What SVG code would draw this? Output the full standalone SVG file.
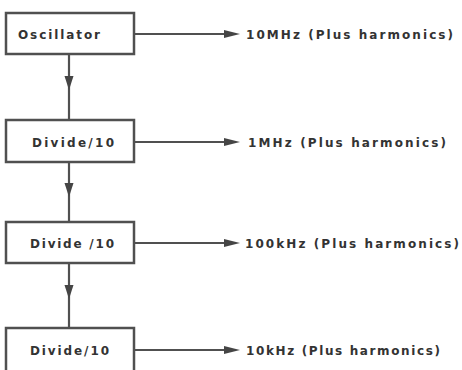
<svg xmlns="http://www.w3.org/2000/svg" width="462" height="370" viewBox="0 0 462 370">
<style>
.box{fill:#fff;stroke:#505050;stroke-width:2.5}
.lbl{font-family:"DejaVu Sans","Liberation Sans",sans-serif;font-weight:bold;font-size:12px;fill:#333}
.out{font-family:"DejaVu Sans","Liberation Sans",sans-serif;font-weight:bold;font-size:12px;fill:#333}
.ln{stroke:#505050;stroke-width:2.2;fill:none}
.hd{fill:#454545}
</style>
<rect width="462" height="370" fill="#fff"/>
<g id="connectors">
<line class="ln" x1="134" y1="34" x2="232" y2="34"/>
<path class="hd" d="M224,30 L240,34 L224,38 Z"/>
<line class="ln" x1="134" y1="142" x2="232" y2="142"/>
<path class="hd" d="M224,138 L240,142 L224,146 Z"/>
<line class="ln" x1="134" y1="243" x2="232" y2="243"/>
<path class="hd" d="M224,239 L240,243 L224,247 Z"/>
<line class="ln" x1="134" y1="350" x2="232" y2="350"/>
<path class="hd" d="M224,346 L240,350 L224,354 Z"/>
<line class="ln" x1="69" y1="54" x2="69" y2="119"/>
<path class="hd" d="M64.5,76 L73.5,76 L69,90 Z"/>
<line class="ln" x1="69" y1="162" x2="69" y2="222"/>
<path class="hd" d="M64.5,183 L73.5,183 L69,197 Z"/>
<line class="ln" x1="69" y1="263" x2="69" y2="328"/>
<path class="hd" d="M64.5,285 L73.5,285 L69,299 Z"/>
</g>
<g id="oscillator">
<rect class="box" x="6" y="13" width="128" height="41"/>
<text class="lbl" x="18" y="38.5" textLength="82" lengthAdjust="spacing">Oscillator</text>
</g>
<g id="divide1">
<rect class="box" x="6" y="120" width="128" height="42"/>
<text class="lbl" x="32" y="147" textLength="82" lengthAdjust="spacing">Divide/10</text>
</g>
<g id="divide2">
<rect class="box" x="6" y="222" width="128" height="41"/>
<text class="lbl" x="30" y="248" textLength="84" lengthAdjust="spacing">Divide /10</text>
</g>
<g id="divide3">
<rect class="box" x="6" y="328" width="128" height="46"/>
<text class="lbl" x="30" y="355" textLength="79" lengthAdjust="spacing">Divide/10</text>
</g>
<g id="outputs">
<text class="out" x="246" y="38.5" textLength="207" lengthAdjust="spacing">10MHz (Plus harmonics)</text>
<text class="out" x="248" y="146.5" textLength="198" lengthAdjust="spacing">1MHz (Plus harmonics)</text>
<text class="out" x="245" y="247.5" textLength="214" lengthAdjust="spacing">100kHz (Plus harmonics)</text>
<text class="out" x="246" y="354.5" textLength="194" lengthAdjust="spacing">10kHz (Plus harmonics)</text>
</g>
</svg>
